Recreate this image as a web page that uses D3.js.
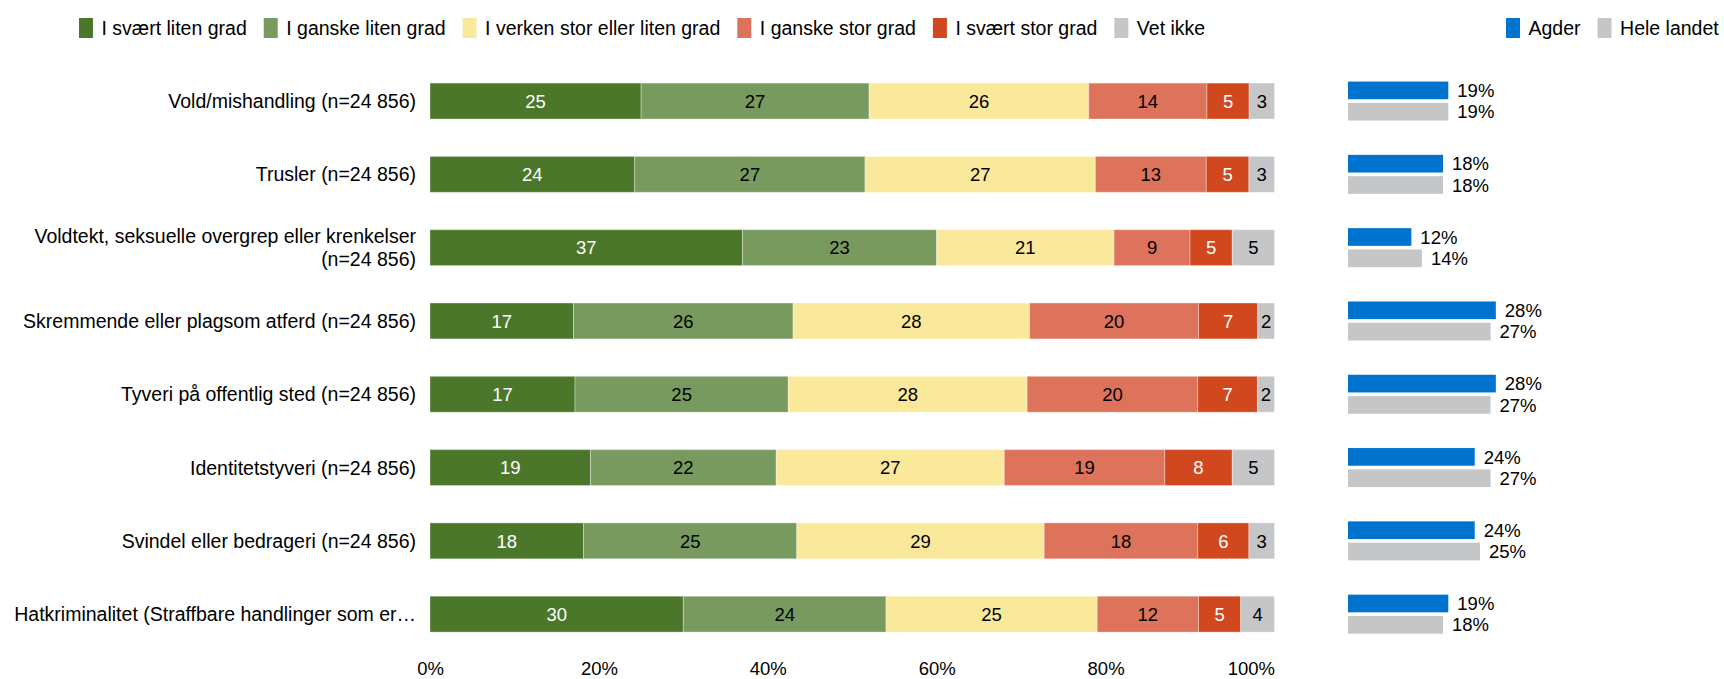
<!DOCTYPE html>
<html>
<head>
<meta charset="utf-8">
<script src="https://cdn.jsdelivr.net/npm/d3@7"></script>
<style>
  body { margin: 0; background: #fff; }
  svg { display: block; font-family: "Liberation Sans", Arial, sans-serif; }
</style>
</head>
<body>
<div id="chart"></div>
<script>
// categories (label lines)
var categories = [
    ["Vold/mishandling (n=24 856)"],
    ["Trusler (n=24 856)"],
    ["Voldtekt, seksuelle overgrep eller krenkelser", "(n=24 856)"],
    ["Skremmende eller plagsom atferd (n=24 856)"],
    ["Tyveri på offentlig sted (n=24 856)"],
    ["Identitetstyveri (n=24 856)"],
    ["Svindel eller bedrageri (n=24 856)"],
    ["Hatkriminalitet (Straffbare handlinger som er…"]
];
var answers = ["I svært liten grad", "I ganske liten grad", "I verken stor eller liten grad",
    "I ganske stor grad", "I svært stor grad", "Vet ikke"];
var sværtLiten   = [25, 24, 37, 17, 17, 19, 18, 30];
var ganskeLiten  = [27, 27, 23, 26, 25, 22, 25, 24];
var verken       = [26, 27, 21, 28, 28, 27, 29, 25];
var ganskeStor   = [14, 13,  9, 20, 20, 19, 18, 12];
var sværtStor    = [ 5,  5,  5,  7,  7,  8,  6,  5];
var vetIkke      = [ 3,  3,  5,  2,  2,  5,  3,  4];
var regions = ["Agder", "Hele landet"];
var agder      = [19, 18, 12, 28, 28, 24, 24, 19];
var heleLandet = [19, 18, 14, 27, 27, 27, 25, 18];
var xTicks = [0, 0.2, 0.4, 0.6, 0.8, 1];

var W = 1724, H = 679;
var colors = ["#4b772b", "#789a5f", "#fae99b", "#dc735a", "#d1481f", "#c5c6c8"];
var textColors = ["#fff", "#000", "#000", "#000", "#fff", "#000"];
var regionColors = ["#0073cf", "#c5c6c8"];
var labelFont = "19.5px", numFont = "18.5px";

var series = [sværtLiten, ganskeLiten, verken, ganskeStor, sværtStor, vetIkke];
var rows = categories.map(function(c, i) {
    var r = {key: i};
    answers.forEach(function(a, j) { r[a] = series[j][i]; });
    return r;
});

var svg = d3.select("#chart").append("svg").attr("width", W).attr("height", H);

var x = d3.scaleLinear().domain([0, 1]).range([430, 1274.5]);
var y = d3.scaleBand().domain(d3.range(categories.length))
    .range([64.4, 650.8]).paddingInner(0.51).paddingOuter(0.255);

var stacked = d3.stack().keys(answers).offset(d3.stackOffsetExpand)(rows);

var layers = svg.append("g").selectAll("g")
    .data(stacked).enter().append("g")
    .attr("fill", function(d, i) { return colors[i]; });

layers.selectAll("rect")
    .data(function(d) { return d; })
    .enter().append("rect")
    .attr("x", function(d) { return x(d[0]); })
    .attr("y", function(d) { return y(d.data.key); })
    .attr("width", function(d) { return x(d[1]) - x(d[0]); })
    .attr("height", y.bandwidth())
    .attr("stroke", "#fff")
    .attr("stroke-opacity", 0.35)
    .attr("stroke-width", 1);

layers.selectAll("text")
    .data(function(d, i) { return d.map(function(p) { return {p: p, s: i}; }); })
    .enter().append("text")
    .attr("x", function(d) { return (x(d.p[0]) + x(d.p[1])) / 2; })
    .attr("y", function(d) { return y(d.p.data.key) + y.bandwidth() / 2; })
    .attr("dy", "0.36em")
    .attr("text-anchor", "middle")
    .attr("font-size", numFont)
    .attr("fill", function(d) { return textColors[d.s]; })
    .text(function(d) { return d.p.data[answers[d.s]]; });

// category labels
var lineH = 22.7;
var labels = svg.append("g").selectAll("text")
    .data(categories).enter().append("text")
    .attr("text-anchor", "end")
    .attr("font-size", labelFont)
    .attr("fill", "#000");
labels.each(function(lines, i) {
    var cy = y(i) + y.bandwidth() / 2 - (lines.length - 1) * lineH / 2;
    d3.select(this).selectAll("tspan").data(lines).enter().append("tspan")
        .attr("x", 416)
        .attr("y", function(l, k) { return cy + k * lineH; })
        .attr("dy", "0.36em")
        .text(function(l) { return l; });
});

// x axis
var axis = svg.append("g")
    .attr("transform", "translate(0, 662)")
    .call(d3.axisBottom(x).tickValues(xTicks).tickFormat(d3.format(".0%")).tickSize(0).tickPadding(0));
axis.select(".domain").remove();
axis.selectAll("text")
    .attr("font-family", "Liberation Sans, Arial, sans-serif")
    .attr("font-size", numFont)
    .attr("fill", "#000");
// last tick label is kept inside the plot
axis.selectAll("text").filter(function(d) { return d === 1; })
    .attr("text-anchor", "end");

// right panel: Agder vs Hele landet
var xr = d3.scaleLinear().domain([0, 30]).range([1348, 1348 + 158.4]);
var yr = d3.scaleBand().domain(regions).range([-19.5, 19.5]).paddingInner(0.17);
var regionVals = [agder, heleLandet];

var pairs = svg.append("g").selectAll("g")
    .data(categories).enter().append("g")
    .attr("transform", function(d, i) { return "translate(0," + (y(i) + y.bandwidth() / 2) + ")"; });

regions.forEach(function(reg, j) {
    pairs.append("rect")
        .attr("x", xr(0))
        .attr("y", yr(reg))
        .attr("width", function(d, i) { return xr(regionVals[j][i]) - xr(0); })
        .attr("height", yr.bandwidth())
        .attr("fill", regionColors[j]);
    pairs.append("text")
        .attr("x", function(d, i) { return xr(regionVals[j][i]) + 9; })
        .attr("y", yr(reg) + yr.bandwidth() / 2)
        .attr("dy", "0.36em")
        .attr("font-size", numFont)
        .attr("fill", "#000")
        .text(function(d, i) { return regionVals[j][i] + "%"; });
});

// legends
function legend(items, cols, x0) {
    var g = svg.append("g");
    var xpos = x0;
    items.forEach(function(name, i) {
        g.append("rect")
            .attr("x", xpos).attr("y", 18)
            .attr("width", 14).attr("height", 20)
            .attr("fill", cols[i]);
        var t = g.append("text")
            .attr("x", xpos + 22.5).attr("y", 28)
            .attr("dy", "0.36em")
            .attr("font-size", labelFont)
            .attr("fill", "#000")
            .text(name);
        xpos += 22.5 + t.node().getComputedTextLength() + 17;
    });
}
legend(answers, colors, 79);
legend(regions, regionColors, 1506);
</script>
</body>
</html>
